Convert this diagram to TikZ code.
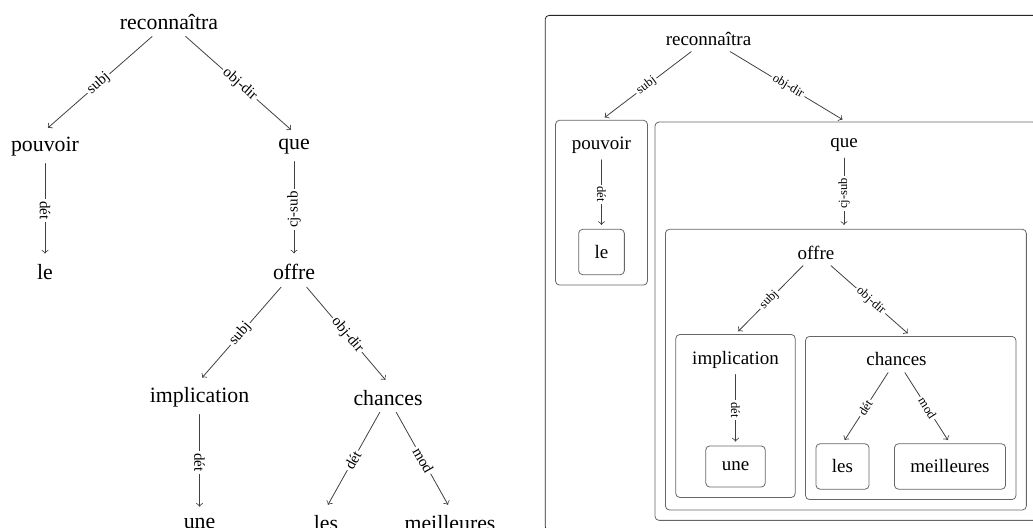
\documentclass[tikz,border=0pt]{standalone}
\usepackage{fontspec}
\setmainfont{Liberation Serif}
\usetikzlibrary{fit}

\begin{document}
\begin{tikzpicture}[x=0.5pt,y=-0.5pt,line cap=round,line join=round,
  word/.style={font=\fontsize{10.9}{13}\selectfont},
  rel/.style={font=\fontsize{7.5}{9}\selectfont,fill=white,inner sep=1pt},
  dep/.style={->,draw=black!75,shorten >=2pt},
  hword/.style={font=\fontsize{9.5}{11}\selectfont,inner sep=3pt},
  leaf/.style={hword,draw=black!60,rounded corners=2pt,inner sep=8pt},
  group/.style={draw=black!60,rounded corners=2pt,inner sep=5pt},
  srel/.style={rel,font=\fontsize{6.3}{8}\selectfont}]
\useasboundingbox (0,0) rectangle (1033,528);

% plain tree
\node[word] (rec) at (169,21.7) {reconnaîtra};
\node[word] (pou) at (45,147) {pouvoir};
\node[word] (que) at (294,147) {que};
\node[word] (le) at (45,272.3) {le};
\node[word] (off) at (294,272.3) {offre};
\node[word] (imp) at (199.5,397.6) {implication};
\node[word] (cha) at (388,397.6) {chances};
\node[word] (une) at (199.5,523) {une};
\node[word] (les) at (326,523) {les};
\node[word] (mei) at (450,523) {meilleures};

\draw[dep] (rec) -- node[rel,sloped] {subj} (pou.north);
\draw[dep] (rec) -- node[rel,sloped] {obj-dir} (que.north);
\draw[dep] (pou) -- node[rel,rotate=-90] {dét} (le);
\draw[dep] (que) -- node[rel,rotate=90] {cj-sub} (off);
\draw[dep] (off) -- node[rel,sloped] {subj} (imp.north);
\draw[dep] (off) -- node[rel,sloped] {obj-dir} (cha.north);
\draw[dep] (imp) -- node[rel,rotate=-90] {dét} (une);
\draw[dep] (cha) -- node[rel,sloped] {dét} (les.north);
\draw[dep] (cha) -- node[rel,sloped] {mod} (mei.north);

% boxed tree
\node[hword] (rrec) at (708.5,38.5) {reconnaîtra};
\node[hword] (rpou) at (601.5,145) {pouvoir};
\node[leaf] (rle) at (601.5,252) {le};
\node[group,fit=(rpou)(rle)] (gpou) {};
\node[hword] (rque) at (844,145) {que};
\node[hword] (roff) at (816,252.5) {offre};
\node[hword] (rimp) at (735.5,359.5) {implication};
\node[leaf] (rune) at (735.5,466.5) {une};
\node[group,fit=(rimp)(rune)] (gimp) {};
\node[hword] (rcha) at (896.5,359.5) {chances};
\node[leaf] (rles) at (842.5,466.5) {les};
\node[leaf] (rmei) at (950,466.5) {meilleures};
\node[group,fit=(rcha)(rles)(rmei)] (gcha) {};
\node[group,fit=(roff)(gimp)(gcha)] (goff) {};
\node[group,fit=(rque)(goff)] (gque) {};
\node[group,draw=black!85,fit=(rrec)(gpou)(gque)] (gall) {};

\draw[dep] (rrec) -- node[srel,sloped] {subj} (gpou.north);
\draw[dep] (rrec) -- node[srel,sloped] {obj-dir} (gque.north);
\draw[dep] (rpou) -- node[srel,rotate=-90] {dét} (rle);
\draw[dep] (rque) -- node[srel,rotate=90] {cj-sub} (rque |- goff.north);
\draw[dep] (roff) -- node[srel,sloped] {subj} (gimp.north);
\draw[dep] (roff) -- node[srel,sloped] {obj-dir} (gcha.north);
\draw[dep] (rimp) -- node[srel,rotate=-90] {dét} (rune);
\draw[dep] (rcha) -- node[srel,sloped] {dét} (rles.north);
\draw[dep] (rcha) -- node[srel,sloped] {mod} (rmei.north);
\end{tikzpicture}
\end{document}
